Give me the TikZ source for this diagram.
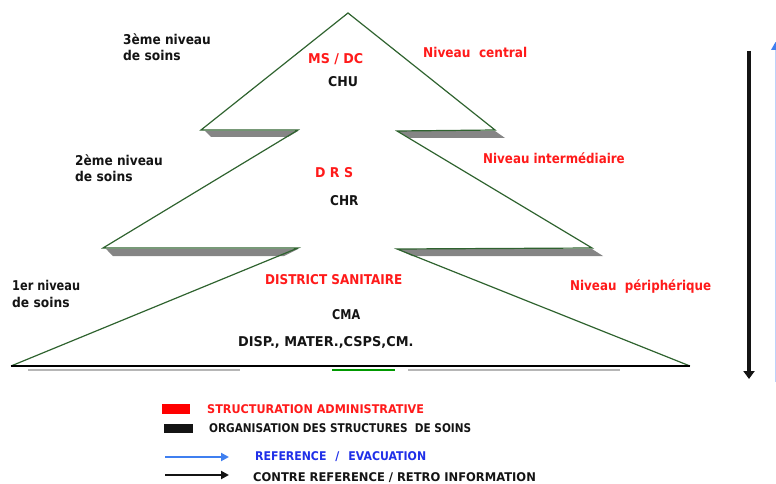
\documentclass[tikz,border=0pt]{standalone}
\usepackage{fontspec}
\setmainfont{DejaVu Sans}
\usetikzlibrary{arrows.meta}
\definecolor{treegreen}{HTML}{2F632F}
\definecolor{redtxt}{HTML}{FF1A1A}
\definecolor{blacktxt}{HTML}{141414}
\definecolor{bluetxt}{HTML}{1F2FE8}
\definecolor{bluearrow}{HTML}{3F7FF0}
\definecolor{shadowgray}{HTML}{858585}
\newcommand{\sx}[2]{\scalebox{#1}[1]{#2}}
\tikzset{
  lbl/.style={font=\bfseries\fontsize{13.5}{15}\selectfont, inner sep=0pt, anchor=base west},
  leg/.style={font=\bfseries\fontsize{12}{14}\selectfont, inner sep=0pt, anchor=base west},
  redlbl/.style={lbl, text=redtxt},
  blklbl/.style={lbl, text=blacktxt},
  redleg/.style={leg, text=redtxt},
  blkleg/.style={leg, text=blacktxt},
  blueleg/.style={leg, text=bluetxt},
  tree/.style={draw=treegreen, line width=1.2pt, line join=miter},
  shadow/.style={fill=shadowgray, draw=none},
}
\begin{document}
\begin{tikzpicture}[x=1pt,y=-1pt]
\useasboundingbox (0,0) rectangle (776,484);
% shadows
\fill[shadow] (205,131) -- (298,131) -- (288,137) -- (211,137) -- cycle;
\fill[shadow] (397,131) -- (495,131) -- (505,138) -- (410,138) -- cycle;
\fill[shadow] (106,249) -- (298,249) -- (284,256) -- (113,256) -- cycle;
\fill[shadow] (397,249) -- (592,249) -- (603,256) -- (412,256) -- cycle;
\draw[shadowgray!60, line width=1.5pt] (28,370) -- (240,370);
\draw[shadowgray!60, line width=1.5pt] (408,370) -- (620,370);
\draw[green!60!black, line width=1.2pt] (332,370) -- (395,370);
% tree outline
\coordinate (apex) at (348,13);
\coordinate (l1) at (201,130);
\coordinate (l1i) at (298,130);
\coordinate (l2) at (103,248);
\coordinate (l2i) at (298,248);
\coordinate (l3) at (11,366);
\coordinate (r3) at (690,366);
\coordinate (r2i) at (397,249);
\coordinate (r2) at (592,248);
\coordinate (r1i) at (397,131);
\coordinate (r1) at (495,130);
\draw[tree] (l3) -- (l2i) -- (l2) -- (l1i) -- (l1) -- (apex) -- (r1) -- (r1i) -- (r2) -- (r2i) -- (r3);
\draw[black, line width=2.4pt] (l3) -- (r3);
% labels left
\node[blklbl] (n3a) at (123,44.5) {\sx{0.90}{3ème niveau}};
\node[blklbl] (n3b) at (123,61) {\sx{0.91}{de soins}};
\node[blklbl] (n2a) at (75,165.5) {\sx{0.90}{2ème niveau}};
\node[blklbl] (n2b) at (75,181.5) {\sx{0.91}{de soins}};
\node[blklbl] (n1a) at (12,290.5) {\sx{0.84}{1er niveau}};
\node[blklbl] (n1b) at (12,307) {\sx{0.91}{de soins}};
% inside
\node[redlbl] (ms) at (308,64) {\sx{0.94}{MS / DC}};
\node[blklbl] (chu) at (328,87) {\sx{0.93}{CHU}};
\node[redlbl] (drs) at (315,177) {\sx{0.93}{D R S}};
\node[blklbl] (chr) at (330,205.5) {\sx{0.895}{CHR}};
\node[redlbl] (ds) at (265,284.5) {\sx{0.89}{DISTRICT SANITAIRE}};
\node[blklbl] (cma) at (332,319.5) {\sx{0.83}{CMA}};
\node[blklbl] (disp) at (238,346.5) {\sx{0.955}{DISP., MATER.,CSPS,CM.}};
% right
\node[redlbl] (nc) at (423,58) {\sx{0.90}{Niveau\ \ central}};
\node[redlbl] (ni) at (483,164) {\sx{0.88}{Niveau intermédiaire}};
\node[redlbl] (np) at (570,290.5) {\sx{0.88}{Niveau\ \ périphérique}};
% vertical arrows
\coordinate (vt) at (749,51);
\coordinate (vb) at (749,379);
\draw[blacktxt, line width=3.5pt, -{Triangle[length=8pt,width=11pt]}] (vt) -- (vb);
\coordinate (bt) at (775.5,43);
\coordinate (bb) at (775.5,382);
\draw[bluearrow!35, line width=1pt] (bb) -- (775.5,50);
\fill[bluearrow] (771,50) -- (775.5,42) -- (780,50) -- cycle;
% legend
\node[fill=red, minimum width=28pt, minimum height=10pt, inner sep=0pt] (lr) at (176,408.5) {};
\node[fill=blacktxt, minimum width=29pt, minimum height=9pt, inner sep=0pt] (lb) at (178.5,428) {};
\node[redleg] (t1) at (207,413) {\sx{0.935}{STRUCTURATION ADMINISTRATIVE}};
\node[blkleg] (t2) at (209,432.5) {\sx{0.875}{ORGANISATION DES STRUCTURES\ \ DE SOINS}};
\coordinate (a1s) at (165,457);
\coordinate (a1e) at (229,457);
\coordinate (a2s) at (165,475);
\coordinate (a2e) at (229,475);
\draw[bluearrow, line width=2.5pt, -{Triangle[length=8pt,width=8pt]}] (a1s) -- (a1e);
\draw[blacktxt, line width=2.5pt, -{Triangle[length=8pt,width=8pt]}] (a2s) -- (a2e);
\node[blueleg] (t3) at (255,460) {\sx{0.91}{REFERENCE}\hspace{9pt}\sx{0.91}{/}\hspace{9pt}\sx{0.91}{EVACUATION}};
\node[blkleg] (t4) at (253,481.5) {\sx{0.96}{CONTRE REFERENCE / RETRO INFORMATION}};
\end{tikzpicture}
\end{document}
